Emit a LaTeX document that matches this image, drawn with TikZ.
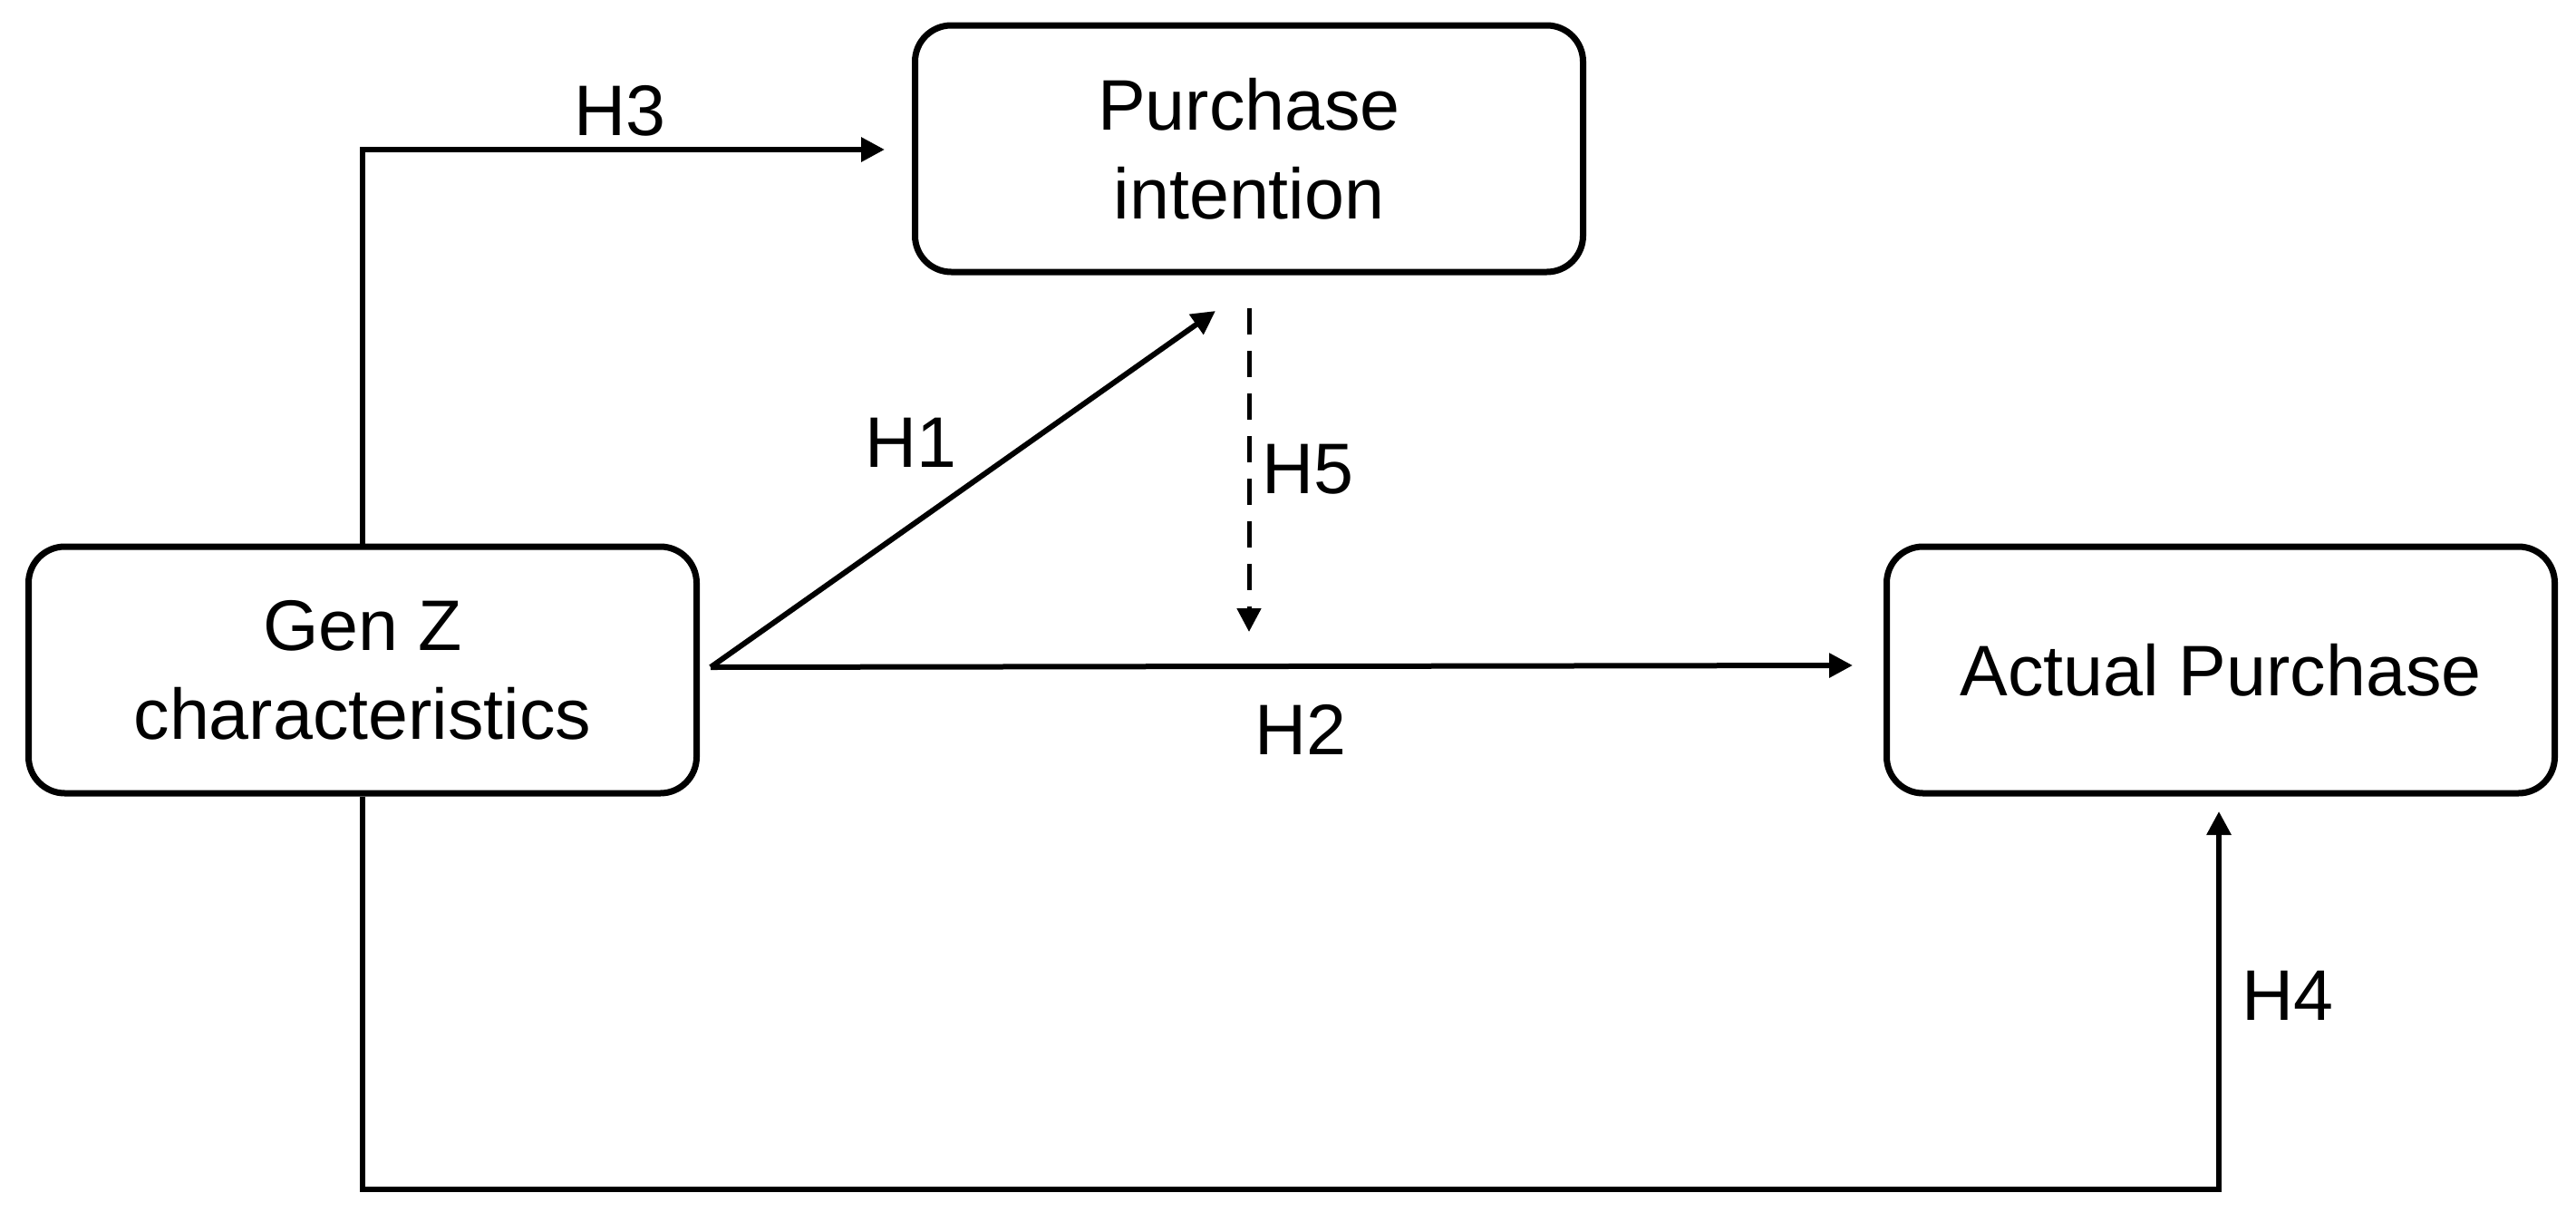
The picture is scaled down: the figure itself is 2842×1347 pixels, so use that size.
\documentclass[tikz,border=0pt]{standalone}
\usepackage{fontspec}
\setmainfont{Liberation Sans}
\usetikzlibrary{arrows.meta}
\tikzset{
  box/.style={draw=black, line width=7pt, rounded corners=40pt, minimum width=737pt, minimum height=272pt, align=center, inner sep=0pt, font=\fontsize{79pt}{98pt}\selectfont},
  lbl/.style={inner sep=0pt, font=\fontsize{79pt}{98pt}\selectfont},
  conn/.style={draw=black, line width=6pt, -{Triangle[length=26pt,width=26pt]}},
  dconn/.style={conn, line width=5pt, dash pattern=on 29pt off 18pt},
}
\begin{document}
\begin{tikzpicture}[x=1pt,y=-1pt]
\useasboundingbox (0,0) rectangle (2842,1347);
\node[box] (gz) at (400,739) {Gen Z\\characteristics};
\node[box] (pi) at (1378,164) {Purchase\\intention};
\node[box] (ap) at (2450,739) {Actual Purchase};
\coordinate (o) at (784,736);
\coordinate (h3end) at (976,165);
\coordinate (h1end) at (1341,343);
\coordinate (h5start) at (1378,340);
\coordinate (h5end) at (1378,697);
\coordinate (h2end) at (2044,734);
\coordinate (c4) at (2448,1312);
\coordinate (h4end) at (2448,895);
\draw[conn] (gz.north) |- (h3end);
\draw[conn] (o) -- (h1end);
\draw[conn] (o) -- (h2end);
\draw[dconn] (h5start) -- (h5end);
\draw[conn] (gz.south) |- (c4) -- (h4end);
\node[lbl] (l3) at (684,122) {H3};
\node[lbl] (l1) at (1005,488) {H1};
\node[lbl] (l5) at (1443,518) {H5};
\node[lbl] (l2) at (1435,805) {H2};
\node[lbl] (l4) at (2524,1098) {H4};
\end{tikzpicture}
\end{document}
